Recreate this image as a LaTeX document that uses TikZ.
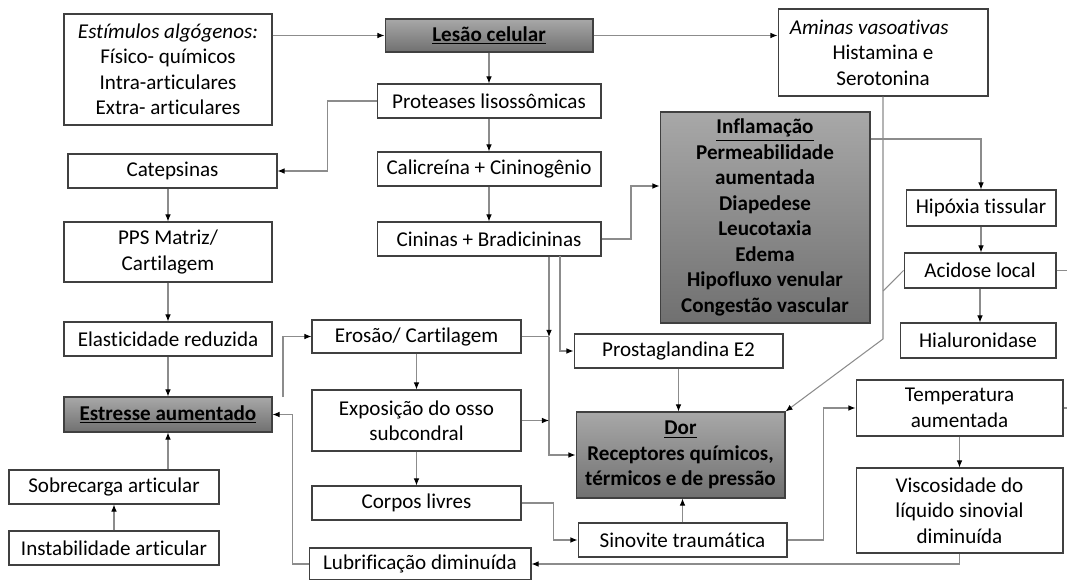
\documentclass[tikz,border=0pt]{standalone}
\usepackage{fontspec}
\setmainfont{Carlito}[RawFeature={-liga}]
\usetikzlibrary{arrows.meta}

\definecolor{boxline}{RGB}{64,64,64}
\definecolor{linkgray}{RGB}{140,140,140}
\definecolor{shadetop}{RGB}{168,168,168}
\definecolor{shadebot}{RGB}{112,112,112}

\begin{document}
\begin{tikzpicture}[x=0.02cm, y=-0.02cm,
  box/.style={draw=boxline, line width=0.6pt, fill=white, inner sep=1pt, align=center,
    font=\fontsize{12}{14.5}\selectfont},
  darkbox/.style={box, top color=shadetop, bottom color=shadebot,
    font=\fontsize{12}{14.5}\selectfont\bfseries},
  link/.style={draw=linkgray, line width=0.6pt},
  arr/.style={link, -{Latex[length=4pt,width=3.2pt,color=black]}}]
  \useasboundingbox (0,0) rectangle (1067,580);

  % top row
  \node [box, minimum width=4.16cm, minimum height=2.22cm] (stim) at (168,69.5)
    {\textit{Estímulos algógenos:}\\Físico- químicos\\Intra-articulares\\Extra- articulares};
  \node [darkbox, minimum width=4.16cm, minimum height=0.66cm] (lesao) at (489,35.5)
    {\underline{Lesão celular}};
  \node [box, minimum width=4.20cm, minimum height=1.74cm] (aminas) at (883,52.5)
    {\textit{Aminas vasoativas}\hspace*{0.55cm}\\Histamina e\\Serotonina};

  % middle column
  \node [box, minimum width=4.48cm, minimum height=0.68cm] (proteases) at (489,101) {Proteases lisossômicas};
  \node [box, minimum width=4.48cm, minimum height=0.68cm] (calicreina) at (489,169) {Calicreína + Cininogênio};
  \node [box, minimum width=4.48cm, minimum height=0.68cm] (cininas) at (489,239) {Cininas + Bradicininas};
  \node [darkbox, minimum width=4.20cm, minimum height=4.22cm] (inflamacao) at (765,217.5)
    {\underline{Inflamação}\\Permeabilidade\\aumentada\\Diapedese\\Leucotaxia\\Edema\\Hipofluxo venular\\Congestão vascular};

  % right column
  \node [box, minimum width=3.00cm, minimum height=0.72cm] (hipoxia) at (981,208) {Hipóxia tissular};
  \node [box, minimum width=3.04cm, minimum height=0.70cm] (acidose) at (980,270.5) {Acidose local};
  \node [box, minimum width=3.12cm, minimum height=0.70cm] (hialuronidase) at (978,340.5) {Hialuronidase};
  \node [box, minimum width=4.14cm, minimum height=1.12cm] (temperatura) at (959.5,408) {Temperatura\\aumentada};
  \node [box, minimum width=4.14cm, minimum height=1.70cm] (viscosidade) at (959.5,510.5)
    {Viscosidade do\\líquido sinovial\\diminuída};

  % left column
  \node [box, minimum width=4.18cm, minimum height=0.68cm] (catepsinas) at (172.5,171) {Catepsinas};
  \node [box, minimum width=4.16cm, minimum height=1.20cm] (pps) at (168,252) {PPS Matriz/\\Cartilagem};
  \node [box, minimum width=4.16cm, minimum height=0.68cm] (elasticidade) at (168,339) {Elasticidade reduzida};
  \node [darkbox, minimum width=4.16cm, minimum height=0.70cm] (estresse) at (168,414.5)
    {\underline{Estresse aumentado}};
  \node [box, minimum width=4.20cm, minimum height=0.68cm] (sobrecarga) at (114,487) {Sobrecarga articular};
  \node [box, minimum width=4.20cm, minimum height=0.68cm] (instabilidade) at (114,548) {Instabilidade articular};

  % lower middle
  \node [box, minimum width=4.18cm, minimum height=0.66cm] (erosao) at (416.5,336.5) {Erosão/ Cartilagem};
  \node [box, minimum width=4.18cm, minimum height=1.22cm] (exposicao) at (416.5,420.5)
    {Exposição do osso\\subcondral};
  \node [box, minimum width=4.18cm, minimum height=0.68cm] (corpos) at (416.5,503) {Corpos livres};
  \node [box, minimum width=4.44cm, minimum height=0.64cm] (lubrificacao) at (420,564) {Lubrificação diminuída};
  \node [box, minimum width=4.18cm, minimum height=0.68cm] (prosta) at (678.5,351) {Prostaglandina E2};
  \node [darkbox, minimum width=4.18cm, minimum height=1.72cm] (dor) at (680.5,455)
    {\underline{Dor}\\Receptores químicos,\\térmicos e de pressão};
  \node [box, minimum width=4.18cm, minimum height=0.68cm] (sinovite) at (682.5,540) {Sinovite traumática};

  % helper points
  \coordinate (k1) at (631,186);
  \coordinate (k2) at (981,139);
  \coordinate (k3) at (883,339);
  \coordinate (k4) at (883,291);
  \coordinate (k5) at (283,397);
  \coordinate (j1) at (549,337);
  \coordinate (j2) at (560,256);
  \coordinate (e1) at (1067,270);

  % connectors
  \draw [arr] (lesao.west -| stim.east) -- (lesao.west);
  \draw [arr] (lesao.east) -- (lesao.east -| aminas.west);
  \draw [arr] (lesao) -- (proteases);
  \draw [arr] (proteases.west) -- ++(-49,0) |- (catepsinas.east);
  \draw [arr] (proteases) -- (calicreina);
  \draw [arr] (calicreina) -- (cininas);
  \draw [arr] (cininas.east) -| (k1) -- (k1 -| inflamacao.west);
  \draw [arr] (cininas.south -| j1) -- (j1);
  \draw [link] (erosao.east) -- (erosao.east -| j1);
  \draw [arr] (j1) |- (dor.west);
  \draw [arr] (exposicao.east) -- (exposicao.east -| j1);
  \draw [arr] (j2) |- (prosta.west);
  \draw [arr] (prosta.south) -- (prosta.south |- dor.north);

  \draw [arr] (inflamacao.east |- k2) -| (hipoxia.north);
  \draw [arr] (hipoxia.south) -- (hipoxia.south |- acidose.north);
  \draw [arr] (acidose.south) -- (acidose.south |- hialuronidase.north);
  \draw [arr] (aminas.south) -- (k3) -- (dor.north east);
  \draw [link] (acidose.west) -- (k4);
  \draw [link] (acidose.east) -- (acidose.east -| e1);
  \draw [link] (temperatura.east) -- ++(5,0);

  \draw [arr] (catepsinas.south -| pps.north) -- (pps.north);
  \draw [arr] (pps) -- (elasticidade);
  \draw [arr] (elasticidade) -- (estresse);
  \draw [arr] (k5) |- (erosao.west);
  \draw [arr] (lubrificacao.west) -- ++(-16,0) |- (estresse.east);
  \draw [arr] (sobrecarga.north -| estresse.south) -- (estresse.south);
  \draw [arr] (instabilidade) -- (sobrecarga);

  \draw [arr] (erosao) -- (exposicao);
  \draw [arr] (exposicao) -- (corpos);
  \draw [arr] (corpos.east) -- ++(32,0) |- (sinovite.west);
  \draw [arr] (sinovite.north) -- (sinovite.north |- dor.south);
  \draw [arr] (sinovite.east) -- ++(36,0) |- (temperatura.west);
  \draw [arr] (temperatura) -- (viscosidade);
  \draw [arr] (viscosidade.south) |- (lubrificacao.east);
\end{tikzpicture}
\end{document}
